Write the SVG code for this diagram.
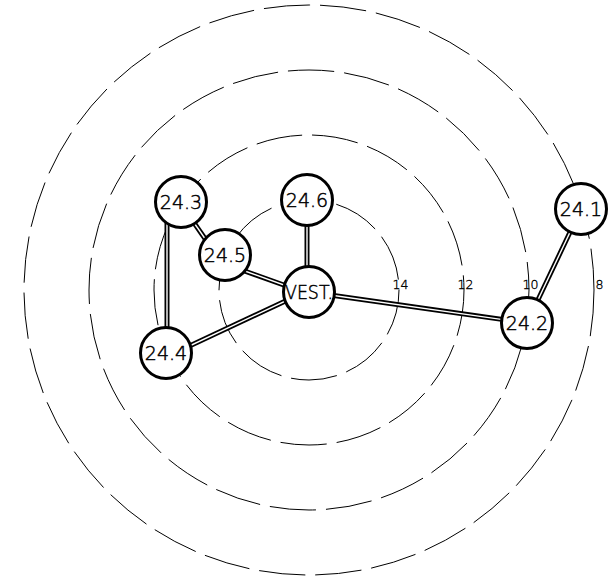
<svg xmlns="http://www.w3.org/2000/svg" width="609" height="581" viewBox="0 0 609 581">
<style>
.ring{fill:none;stroke:#000;stroke-width:1;stroke-dasharray:46.4 10}
.rl{font-family:"DejaVu Sans",sans-serif;font-size:12.5px;font-weight:200;text-anchor:middle;fill:#000;stroke:#000;stroke-width:0.35}
.eo{stroke:#000;stroke-width:5;fill:none}
.ei{stroke:#fff;stroke-width:1.4;fill:none}
.nc{fill:#fff;stroke:#000;stroke-width:3}
.nt{font-family:"DejaVu Sans",sans-serif;font-size:19px;font-weight:200;text-anchor:middle;fill:#000;stroke:#000;stroke-width:0.5}
</style>
<rect width="609" height="581" fill="#fff"/>
<g id="rings">
<circle class="ring" cx="309" cy="290" r="285"/>
<circle class="ring" cx="309" cy="290" r="220"/>
<circle class="ring" cx="309" cy="290" r="155"/>
<circle class="ring" cx="309" cy="290" r="90"/>
<text class="rl" x="400.5" y="289">14</text>
<text class="rl" x="465.5" y="289">12</text>
<text class="rl" x="530.5" y="289">10</text>
<text class="rl" x="599.5" y="289">8</text>
</g>
<g id="connectors">
<path id="e1" class="eo" d="M167,205 L167,350"/><path class="ei" d="M167,205 L167,350"/>
<path id="e2" class="eo" d="M181,204 L217,256"/><path class="ei" d="M181,204 L217,256"/>
<path id="e3" class="eo" d="M225,264 L309,294"/><path class="ei" d="M225,264 L309,294"/>
<path id="e4" class="eo" d="M309,290 L166,357"/><path class="ei" d="M309,290 L166,357"/>
<path id="e5" class="eo" d="M307,200 L307,292"/><path class="ei" d="M307,200 L307,292"/>
<path id="e6" class="eo" d="M309,292 L527,323"/><path class="ei" d="M309,292 L527,323"/>
<path id="e7" class="eo" d="M527,323 L581,209"/><path class="ei" d="M527,323 L581,209"/>
</g>
<g id="n24_3"><circle class="nc" cx="181" cy="202" r="25.5"/><text class="nt" x="181" y="209">24.3</text></g>
<g id="n24_6"><circle class="nc" cx="307" cy="200" r="25.5"/><text class="nt" x="307" y="207">24.6</text></g>
<g id="n24_5"><circle class="nc" cx="225" cy="255" r="25.5"/><text class="nt" x="225" y="262">24.5</text></g>
<g id="nVEST"><circle class="nc" cx="309" cy="292" r="25.5"/><text class="nt" x="309" y="299" textLength="48" lengthAdjust="spacingAndGlyphs">VEST.</text></g>
<g id="n24_4"><circle class="nc" cx="166" cy="353" r="25.5"/><text class="nt" x="166" y="360">24.4</text></g>
<g id="n24_2"><circle class="nc" cx="527" cy="323" r="25.5"/><text class="nt" x="527" y="330">24.2</text></g>
<g id="n24_1"><circle class="nc" cx="581" cy="209" r="25.5"/><text class="nt" x="581" y="216">24.1</text></g>
</svg>
